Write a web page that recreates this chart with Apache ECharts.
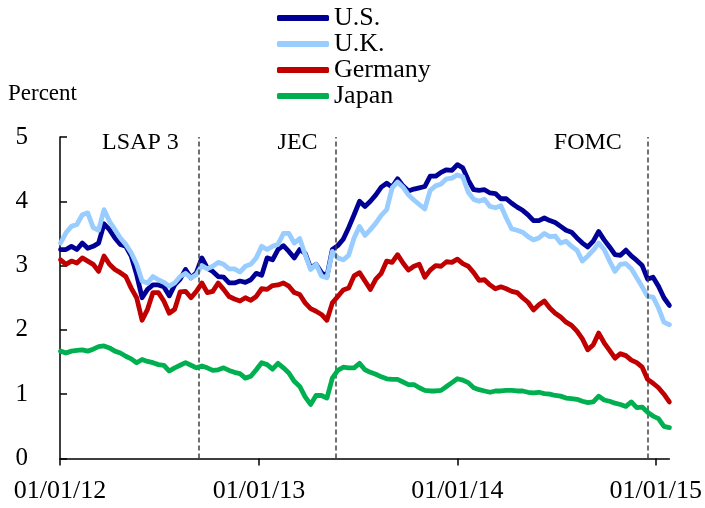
<!DOCTYPE html>
<html>
<head>
<meta charset="utf-8">
<script src="https://cdn.jsdelivr.net/npm/echarts@6/dist/echarts.min.js"></script>
<style>
html,body{margin:0;padding:0;background:#fff;}
#chart{width:705px;height:508px;}
</style>
</head>
<body>
<div id="chart"></div>
<script>
// Sampling: one reading every 10 days starting 2012-01-02
const startDate = [2012, 0, 2];
const stepDays = 10;

const us = [3.25,3.25,3.30,3.25,3.35,3.27,3.30,3.35,3.65,3.56,3.43,3.33,3.30,3.15,2.86,2.50,2.63,2.70,2.70,2.67,
2.53,2.70,2.79,2.94,2.81,2.89,3.12,2.96,2.91,2.83,2.82,2.73,2.73,2.76,2.74,2.78,2.88,2.85,3.12,3.09,
3.25,3.31,3.22,3.12,3.25,3.19,2.96,3.02,2.89,2.83,3.25,3.31,3.41,3.59,3.79,4.00,3.92,4.00,4.10,4.22,
4.28,4.22,4.35,4.24,4.16,4.19,4.21,4.23,4.39,4.39,4.45,4.49,4.48,4.57,4.52,4.33,4.18,4.17,4.18,4.13,
4.12,4.04,4.04,3.97,3.91,3.86,3.79,3.70,3.70,3.74,3.70,3.67,3.61,3.55,3.52,3.43,3.35,3.29,3.38,3.53,
3.40,3.29,3.17,3.16,3.24,3.15,3.08,3.00,2.79,2.82,2.68,2.50,2.38];

const uk = [3.35,3.51,3.61,3.64,3.79,3.82,3.59,3.55,3.87,3.69,3.56,3.43,3.33,3.20,3.02,2.76,2.73,2.83,2.78,2.74,
2.68,2.73,2.83,2.88,2.81,2.86,3.00,2.95,2.99,3.05,3.02,2.95,2.95,2.90,2.99,3.02,3.12,3.30,3.25,3.30,
3.33,3.50,3.50,3.35,3.42,3.17,2.94,3.02,2.84,2.81,3.22,3.12,3.09,3.16,3.43,3.61,3.47,3.56,3.66,3.78,
3.87,4.21,4.30,4.22,4.10,4.02,3.95,3.88,4.17,4.24,4.27,4.35,4.36,4.41,4.38,4.14,4.03,4.00,4.03,3.92,
3.90,3.93,3.74,3.57,3.55,3.52,3.45,3.40,3.43,3.50,3.45,3.46,3.35,3.38,3.30,3.24,3.07,3.15,3.24,3.35,
3.25,3.07,2.91,3.02,3.03,2.95,2.81,2.67,2.52,2.51,2.34,2.12,2.08];

const germany = [3.09,3.02,3.07,3.04,3.12,3.07,3.02,2.91,3.15,3.02,2.94,2.89,2.83,2.65,2.50,2.15,2.32,2.58,2.58,2.45,
2.26,2.32,2.59,2.60,2.50,2.60,2.73,2.58,2.60,2.73,2.63,2.52,2.48,2.45,2.50,2.46,2.52,2.64,2.63,2.69,
2.70,2.73,2.68,2.58,2.55,2.42,2.33,2.29,2.24,2.15,2.42,2.52,2.62,2.65,2.84,2.89,2.76,2.63,2.79,2.88,
3.07,3.05,3.17,3.04,2.93,2.99,3.02,2.82,2.93,3.00,2.99,3.06,3.05,3.10,3.03,2.99,2.89,2.77,2.78,2.70,
2.64,2.67,2.64,2.60,2.58,2.50,2.43,2.31,2.39,2.45,2.34,2.26,2.20,2.12,2.07,1.98,1.86,1.69,1.77,1.95,
1.80,1.68,1.56,1.63,1.60,1.53,1.49,1.42,1.23,1.17,1.10,1.00,0.88];

const japan = [1.67,1.64,1.67,1.68,1.69,1.67,1.70,1.74,1.75,1.72,1.67,1.64,1.59,1.55,1.49,1.54,1.51,1.49,1.46,1.45,
1.36,1.41,1.45,1.49,1.45,1.41,1.44,1.41,1.37,1.38,1.41,1.37,1.34,1.32,1.25,1.28,1.38,1.49,1.46,1.39,
1.48,1.41,1.33,1.20,1.12,0.96,0.84,0.98,0.98,0.94,1.25,1.37,1.42,1.41,1.41,1.48,1.38,1.34,1.31,1.27,
1.24,1.23,1.23,1.19,1.15,1.15,1.10,1.06,1.05,1.05,1.06,1.12,1.18,1.24,1.22,1.18,1.10,1.07,1.05,1.03,
1.05,1.05,1.06,1.06,1.05,1.05,1.03,1.02,1.03,1.01,1.00,0.98,0.97,0.94,0.93,0.92,0.89,0.87,0.88,0.97,
0.91,0.89,0.86,0.84,0.81,0.88,0.79,0.80,0.72,0.66,0.62,0.50,0.48];

const seriesNames = ['U.S.', 'U.K.', 'Germany', 'Japan'];
const eventDates = [[2012, 8, 13], [2013, 4, 22], [2014, 11, 17]];
const eventLabels = ['LSAP 3', 'JEC', 'FOMC'];
const eventLabelDates = [[2012, 4, 28], [2013, 2, 13], [2014, 7, 29]];
const eventLabelLevel = 4.91;
const tickDates = [[2012, 0, 1], [2013, 0, 1], [2014, 0, 1], [2015, 0, 1]];
const axisStart = [2012, 0, 1];
const axisEnd = [2015, 0, 26];
const yTicks = [0, 1, 2, 3, 4, 5];

const ts = a => +new Date(a[0], a[1], a[2]);
const dates = us.map((_, i) => {
  const d = new Date(startDate[0], startDate[1], startDate[2]);
  d.setDate(d.getDate() + i * stepDays);
  return +d;
});
const pair = arr => arr.map((v, i) => [dates[i], v]);
const colors = ['#000096', '#99CCFF', '#C00000', '#00B050'];
const font = 'Liberation Serif';
const pad2 = n => (n < 10 ? '0' : '') + n;

const chart = echarts.init(document.getElementById('chart'), null, {renderer: 'canvas'});
const valuesList = [us, uk, germany, japan];

const lineSeries = seriesNames.map((n, k) => ({
  name: n,
  type: 'line',
  data: pair(valuesList[k]),
  showSymbol: false,
  symbol: 'none',
  color: colors[k],
  lineStyle: {width: 4.8, color: colors[k], cap: 'round', join: 'round'},
  z: 3 + k
}));

const tickTs = tickDates.map(ts);

const option = {
  animation: false,
  backgroundColor: '#fff',
  title: {
    text: 'Percent', left: 8, top: 82, padding: 0,
    textStyle: {fontFamily: font, fontSize: 23, fontWeight: 'normal', color: '#000'}
  },
  legend: {
    data: seriesNames,
    orient: 'vertical',
    left: 277, top: 5, padding: 0,
    itemWidth: 52, itemHeight: 6, itemGap: 0,
    icon: 'roundRect',
    textStyle: {fontFamily: font, fontSize: 26, lineHeight: 26, color: '#000'}
  },
  grid: {left: 60, right: 35, top: 137, bottom: 49.5, containLabel: false},
  xAxis: {
    type: 'value',
    min: ts(axisStart), max: ts(axisEnd),
    axisLine: {show: true, onZero: false, lineStyle: {color: '#000', width: 1.5}},
    axisTick: {show: true, inside: false, length: 7, lineStyle: {color: '#000', width: 1.5},
      customValues: tickTs},
    axisLabel: {
      customValues: tickTs,
      showMinLabel: true, showMaxLabel: true,
      fontFamily: font, fontSize: 26, color: '#000', margin: 20,
      formatter: v => { const d = new Date(v); return pad2(d.getMonth() + 1) + '/' + pad2(d.getDate()) + '/' + String(d.getFullYear()).slice(2); }
    },
    splitLine: {show: false},
    minorTick: {show: false}
  },
  yAxis: {
    type: 'value', min: yTicks[0], max: yTicks[yTicks.length - 1], interval: 1,
    axisLine: {show: true, lineStyle: {color: '#000', width: 1.5}},
    axisTick: {show: true, inside: true, length: 7, lineStyle: {color: '#000', width: 1.5}},
    axisLabel: {fontFamily: font, fontSize: 25, color: '#000', margin: 32},
    splitLine: {show: false}
  },
  series: [{
    name: 'events', type: 'line', data: [], silent: true, z: 1,
    markLine: {
      silent: true, symbol: ['none', 'none'], label: {show: false},
      lineStyle: {type: [5, 3], color: '#404040', width: 1.5},
      data: eventDates.map(d => ({xAxis: ts(d)}))
    },
    markPoint: {
      silent: true, symbol: 'rect', symbolSize: 1,
      itemStyle: {color: 'rgba(0,0,0,0)'},
      label: {show: true, position: 'inside', formatter: '{b}', fontFamily: font, fontSize: 24, color: '#000'},
      data: eventLabels.map((t, i) => ({name: t, coord: [ts(eventLabelDates[i]), eventLabelLevel]}))
    }
  }].concat(lineSeries)
};
chart.setOption(option);
</script>
</body>
</html>
